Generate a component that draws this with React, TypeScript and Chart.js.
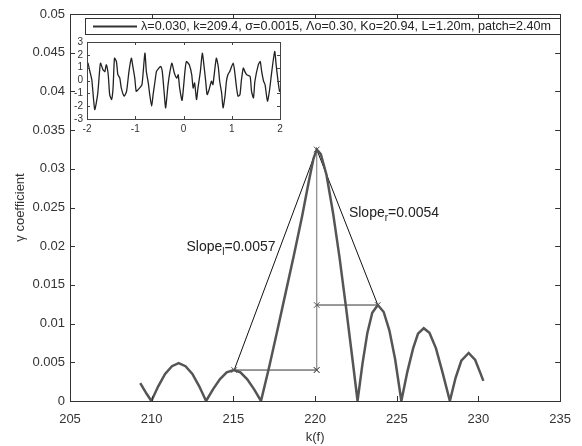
import React, { useEffect, useRef } from "react";
import { Chart, registerables } from "chart.js";

Chart.register(...registerables);

const FONT = '"Liberation Sans", Arial, Helvetica, sans-serif';

// main curve: gamma coefficient vs k(f)
const kValues = [
  209.3, 209.5, 209.7, 209.98,
  210.4, 210.82, 211.24, 211.65, 212.07, 212.49, 212.91, 213.33,
  213.75, 214.17, 214.59, 215.02, 215.43, 215.85, 216.27, 216.69,
  217.2, 217.7, 218.2, 218.7, 219.2, 219.6, 219.9, 220.1, 220.35, 220.7, 221.1, 221.5, 221.9, 222.3, 222.6,
  222.9, 223.2, 223.5, 223.84, 224.2, 224.55, 224.9, 225.28,
  225.65, 226.0, 226.3, 226.65, 227.0, 227.4, 227.8, 228.25,
  228.6, 228.95, 229.4, 229.8, 230.1, 230.3,
];
const gammaValues = [
  0.0023, 0.0016, 0.0009, 0,
  0.0019, 0.0035, 0.0045, 0.0049, 0.0045, 0.0035, 0.0019, 0,
  0.0015, 0.0028, 0.0037, 0.004, 0.0037, 0.0028, 0.0015, 0,
  0.0045, 0.0092, 0.014, 0.0188, 0.0238, 0.0282, 0.0313, 0.0325, 0.0319, 0.0292, 0.0243, 0.0185, 0.012, 0.0052, 0,
  0.0048, 0.0088, 0.0114, 0.0124, 0.0115, 0.0091, 0.0054, 0,
  0.0038, 0.0068, 0.0087, 0.0094, 0.0088, 0.0068, 0.0037, 0,
  0.003, 0.0052, 0.0062, 0.0053, 0.0037, 0.0026,
];

// annotation points
const peakPoint = [220.1, 0.0325];
const leftSidePoint = [215.05, 0.004];
const leftFootPoint = [220.1, 0.004];
const rightSidePoint = [223.84, 0.0124];
const rightFootPoint = [220.1, 0.0124];
const slopeLeftLabel = { k: 212.13, v: 0.0199, sub: "l", text: "=0.0057" };
const slopeRightLabel = { k: 222.07, v: 0.02425, sub: "r", text: "=0.0054" };

const xTicks = [205, 210, 215, 220, 225, 230, 235];
const yTicks = [0, 0.005, 0.01, 0.015, 0.02, 0.025, 0.03, 0.035, 0.04, 0.045, 0.05];
const yTickLabels = ["0", "0.005", "0.01", "0.015", "0.02", "0.025", "0.03", "0.035", "0.04", "0.045", "0.05"];

const legendText = "λ=0.030, k=209.4, σ=0.0015, Λo=0.30, Ko=20.94, L=1.20m, patch=2.40m";

// inset signal
const insetX = [
  -2.0, -1.98, -1.94, -1.9, -1.84, -1.78, -1.74, -1.72, -1.67, -1.63, -1.6, -1.56, -1.53, -1.49, -1.46,
  -1.43, -1.39, -1.36, -1.32, -1.29, -1.23, -1.18, -1.13, -1.08, -1.05, -1.01, -0.98, -0.94, -0.91, -0.86,
  -0.8, -0.77, -0.73, -0.7, -0.66, -0.63, -0.59, -0.56, -0.51, -0.47, -0.44, -0.4, -0.37, -0.32, -0.28,
  -0.24, -0.19, -0.14, -0.11, -0.08, -0.03, 0.03, 0.06, 0.12, 0.17, 0.2, 0.23, 0.27, 0.3, 0.35,
  0.39, 0.43, 0.46, 0.49, 0.53, 0.58, 0.61, 0.68, 0.72, 0.75, 0.79, 0.82, 0.86, 0.89, 0.92,
  0.96, 1.03, 1.06, 1.1, 1.13, 1.17, 1.2, 1.24, 1.27, 1.31, 1.38, 1.41, 1.45, 1.48, 1.55,
  1.59, 1.62, 1.66, 1.69, 1.74, 1.78, 1.83, 1.89, 1.92, 1.96, 1.99, 2.0,
];
const insetY = [
  1.4, 1.35, 0.7, 0.06, -2.26, -1.1, 0.7, 1.35, 0.85, 0.7, 1.22, 0.45, -1.1, -1.48, -0.58,
  1.74, 1.48, 0.45, 0.19, -0.58, -1.22, -0.84, 0.71, 1.74, 1.1, 0.19, -0.84, -0.71, -0.58, -0.32,
  2.13, 0.71, -0.19, -1.1, -2.0, -1.1, -0.06, 0.71, 0.97, 1.1, 0.71, -0.97, -2.13, -0.32, 0.71,
  1.35, 0.58, 0.19, 0.45, -0.58, -1.55, 0.71, 1.48, 1.22, 0.45, -0.58, -0.19, -1.48, -0.58, 0.71,
  2.13, 0.97, -0.06, -1.1, -0.71, -0.06, -0.32, 1.74, 1.1, -0.06, -0.97, -2.13, -1.22, -0.06, 0.45,
  0.71, 1.35, 0.71, -0.58, -1.22, -1.1, 0.02, 0.97, 0.71, 0.45, 0.32, -0.84, -1.35, -0.06, 1.22,
  1.48, 0.71, -0.06, -0.32, -1.61, -0.84, 0.71, 2.26, 1.22, -0.06, -0.84, -0.7,
];
const insetXTicks = [-2, -1, 0, 1, 2];
const insetYTicks = [-3, -2, -1, 0, 1, 2, 3];

const pts = (a: number[], b: number[]) => a.map((v, i) => ({ x: v, y: b[i] }));
const pt = (p: number[]) => ({ x: p[0], y: p[1] });

function drawInwardTicks(chart: any, len: number, color: string) {
  const { ctx, chartArea: a, scales } = chart;
  const { x, y } = scales;
  ctx.save();
  ctx.strokeStyle = color;
  ctx.lineWidth = 1;
  ctx.beginPath();
  x.ticks.forEach((t: any) => {
    const px = Math.round(x.getPixelForValue(t.value)) + 0.5;
    ctx.moveTo(px, a.bottom);
    ctx.lineTo(px, a.bottom - len);
    ctx.moveTo(px, a.top);
    ctx.lineTo(px, a.top + len);
  });
  y.ticks.forEach((t: any) => {
    const py = Math.round(y.getPixelForValue(t.value)) + 0.5;
    ctx.moveTo(a.left, py);
    ctx.lineTo(a.left + len, py);
    ctx.moveTo(a.right, py);
    ctx.lineTo(a.right - len, py);
  });
  ctx.stroke();
  ctx.strokeRect(Math.round(a.left) + 0.5, Math.round(a.top) + 0.5, Math.round(a.right - a.left), Math.round(a.bottom - a.top));
  ctx.restore();
}

function drawSlopeLabel(ctx: any, x: number, y: number, sub: string, rest: string) {
  ctx.fillStyle = "#222";
  ctx.textBaseline = "middle";
  ctx.textAlign = "left";
  ctx.font = `14px ${FONT}`;
  ctx.fillText("Slope", x, y);
  let w = ctx.measureText("Slope").width;
  ctx.font = `10px ${FONT}`;
  ctx.fillText(sub, x + w, y + 5);
  w += ctx.measureText(sub).width;
  ctx.font = `14px ${FONT}`;
  ctx.fillText(rest, x + w, y);
}

const mainDecor = {
  id: "mainDecor",
  afterDraw(chart: any) {
    const { ctx, scales } = chart;
    const { x, y } = scales;
    drawInwardTicks(chart, 5, "#333");
    ctx.save();
    [slopeLeftLabel, slopeRightLabel].forEach((l) => {
      drawSlopeLabel(ctx, x.getPixelForValue(l.k), y.getPixelForValue(l.v), l.sub, l.text);
    });
    // legend box
    const label = chart.data.datasets[0].label;
    ctx.fillStyle = "#fff";
    ctx.fillRect(85, 18, 475, 16);
    ctx.strokeStyle = "#333";
    ctx.lineWidth = 1;
    ctx.strokeRect(85.5, 18.5, 475, 16);
    ctx.strokeStyle = "#333";
    ctx.lineWidth = 2;
    ctx.beginPath();
    ctx.moveTo(93, 26.5);
    ctx.lineTo(137, 26.5);
    ctx.stroke();
    ctx.fillStyle = "#222";
    ctx.font = `12.6px ${FONT}`;
    ctx.textBaseline = "middle";
    ctx.textAlign = "left";
    ctx.fillText(label, 141, 27);
    ctx.restore();
  },
};

const insetDecor = {
  id: "insetDecor",
  beforeDatasetsDraw(chart: any) {
    const { ctx, chartArea: a } = chart;
    ctx.save();
    ctx.fillStyle = "#fff";
    ctx.fillRect(a.left, a.top, a.right - a.left, a.bottom - a.top);
    ctx.restore();
  },
  afterDraw(chart: any) {
    drawInwardTicks(chart, 3, "#444");
  },
};

export default function App() {
  const mainRef = useRef<HTMLCanvasElement>(null);
  const insetRef = useRef<HTMLCanvasElement>(null);

  useEffect(() => {
    const tickFont = { family: FONT, size: 13 };
    const main = new Chart(mainRef.current as HTMLCanvasElement, {
      type: "line",
      data: {
        datasets: [
          {
            label: legendText,
            data: pts(kValues, gammaValues),
            borderColor: "#555",
            borderWidth: 2.5,
            pointRadius: 0,
            tension: 0,
          },
          {
            label: "slopes",
            data: [pt(leftSidePoint), pt(peakPoint), pt(rightSidePoint)],
            borderColor: "#111",
            borderWidth: 1,
            pointRadius: 0,
          },
          {
            label: "left",
            data: [pt(leftSidePoint), pt(leftFootPoint)],
            borderColor: "#333",
            borderWidth: 1,
            pointStyle: "crossRot",
            pointRadius: 4,
            pointBorderColor: "#555",
            pointBorderWidth: 1,
          },
          {
            label: "right",
            data: [pt(rightFootPoint), pt(rightSidePoint)],
            borderColor: "#333",
            borderWidth: 1,
            pointStyle: "crossRot",
            pointRadius: 4,
            pointBorderColor: "#555",
            pointBorderWidth: 1,
          },
          {
            label: "vertical",
            data: [pt(peakPoint), pt(leftFootPoint)],
            borderColor: "#888",
            borderWidth: 1.2,
            pointStyle: "crossRot",
            pointRadius: 4,
            pointBorderColor: "#555",
            pointBorderWidth: 1,
          },
        ],
      },
      options: {
        animation: false,
        responsive: false,
        devicePixelRatio: 1,
        layout: { padding: { top: 14, right: 14, left: 0, bottom: 0 } },
        plugins: { legend: { display: false }, tooltip: { enabled: false } },
        scales: {
          x: {
            type: "linear",
            min: 205,
            max: 235,
            afterBuildTicks: (s: any) => {
              s.ticks = xTicks.map((v) => ({ value: v }));
            },
            afterFit: (s: any) => {
              s.height = 45;
            },
            grid: { display: false, drawTicks: false },
            border: { display: false },
            ticks: { padding: 11, color: "#333", font: tickFont, autoSkip: false, maxRotation: 0 },
            title: { display: true, text: "k(f)", color: "#333", font: tickFont, padding: { top: 0, bottom: 1 } },
          },
          y: {
            type: "linear",
            min: 0,
            max: 0.05,
            afterBuildTicks: (s: any) => {
              s.ticks = yTicks.map((v) => ({ value: v }));
            },
            afterFit: (s: any) => {
              s.width = 70;
            },
            grid: { display: false, drawTicks: false },
            border: { display: false },
            ticks: {
              padding: 5,
              color: "#333",
              font: tickFont,
              autoSkip: false,
              callback: (_v: any, i: number) => yTickLabels[i],
            },
            title: { display: true, text: "γ coefficient", color: "#333", font: tickFont, padding: { top: 13, bottom: 0 } },
          },
        },
      },
      plugins: [mainDecor],
    } as any);

    const insetFont = { family: FONT, size: 10 };
    const inset = new Chart(insetRef.current as HTMLCanvasElement, {
      type: "line",
      data: {
        datasets: [
          {
            label: "signal",
            data: pts(insetX, insetY),
            borderColor: "#222",
            borderWidth: 1.3,
            pointRadius: 0,
            tension: 0.2,
          },
        ],
      },
      options: {
        animation: false,
        responsive: false,
        devicePixelRatio: 1,
        layout: { padding: { top: 12, right: 16, left: 0, bottom: 0 } },
        plugins: { legend: { display: false }, tooltip: { enabled: false } },
        scales: {
          x: {
            type: "linear",
            min: -2,
            max: 2,
            afterBuildTicks: (s: any) => {
              s.ticks = insetXTicks.map((v) => ({ value: v }));
            },
            afterFit: (s: any) => {
              s.height = 21;
            },
            grid: { display: false, drawTicks: false },
            border: { display: false },
            ticks: { padding: 4, color: "#333", font: insetFont, autoSkip: false, maxRotation: 0 },
          },
          y: {
            type: "linear",
            min: -3,
            max: 3,
            afterBuildTicks: (s: any) => {
              s.ticks = insetYTicks.map((v) => ({ value: v }));
            },
            afterFit: (s: any) => {
              s.width = 31;
            },
            grid: { display: false, drawTicks: false },
            border: { display: false },
            ticks: { padding: 4, color: "#333", font: insetFont, autoSkip: false },
          },
        },
      },
      plugins: [insetDecor],
    } as any);

    return () => {
      main.destroy();
      inset.destroy();
    };
  }, []);

  return (
    <div style={{ position: "fixed", left: 0, top: 0, width: 582, height: 446, background: "#fff" }}>
      <canvas ref={mainRef} width={582} height={446} style={{ position: "absolute", left: 0, top: 0 }} />
      <canvas ref={insetRef} width={240} height={110} style={{ position: "absolute", left: 56, top: 30 }} />
    </div>
  );
}
